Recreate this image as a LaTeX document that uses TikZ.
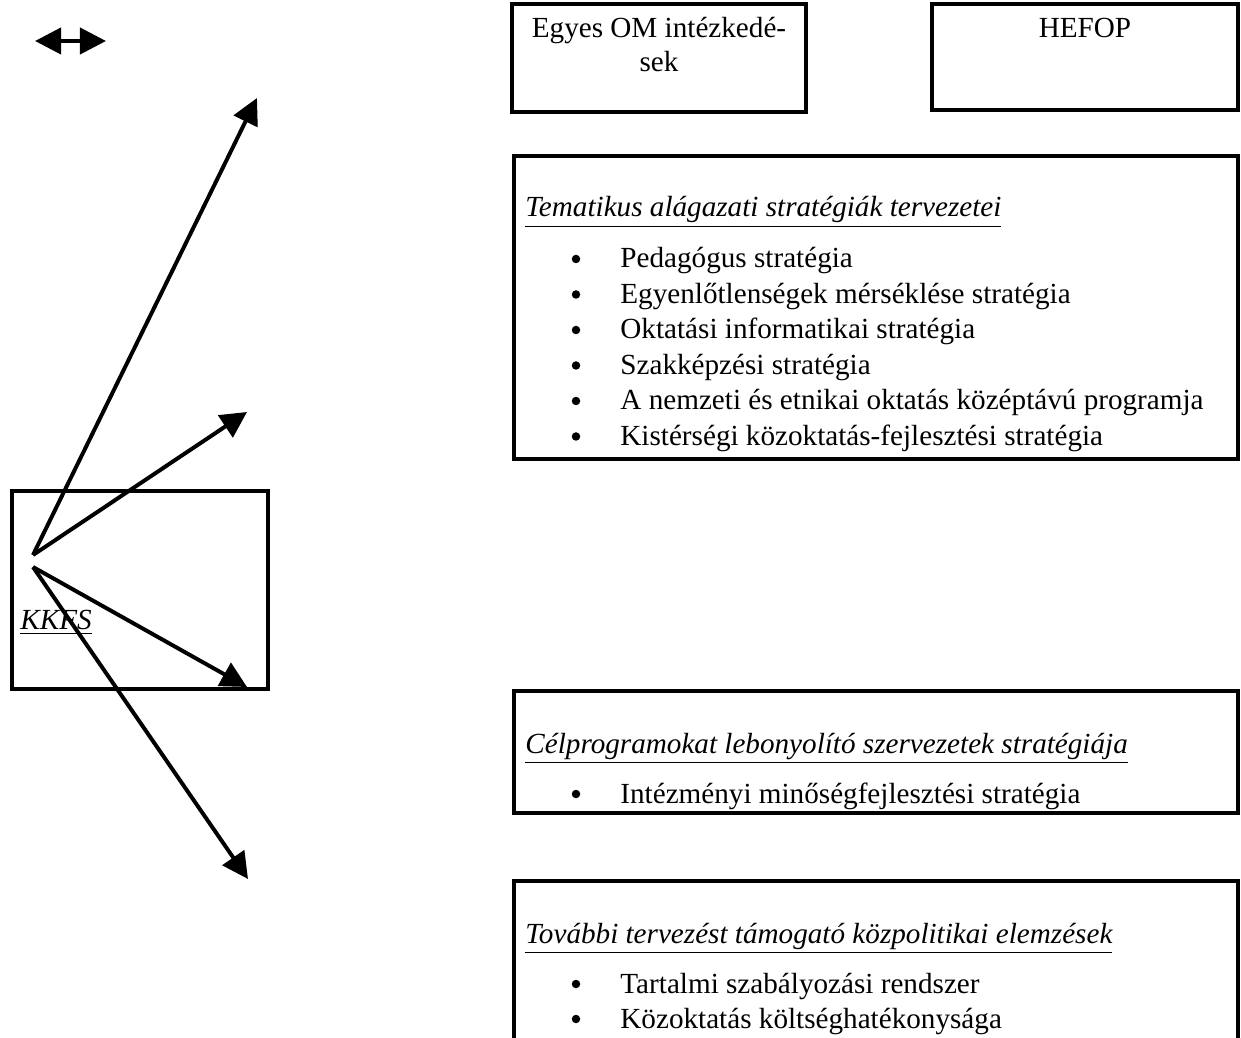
\documentclass[tikz,border=0pt]{standalone}
\usepackage{fontspec}
\setmainfont{Liberation Serif}
\usetikzlibrary{arrows.meta,positioning}

\newcommand{\px}{0.48pt}
\newcommand{\bodyfont}{\fontsize{14}{16}\selectfont}
\tikzset{
  frame/.style={draw, line width=2.2pt, inner sep=0pt, outer sep=0pt, anchor=north west},
  title/.style={anchor=base west, inner sep=0pt, font=\bodyfont\itshape},
  item/.style={anchor=base west, inner sep=0pt},
  dot/.style={anchor=base, inner sep=0pt},
  bullet/.style={circle, fill, inner sep=0pt, minimum size=8.5*\px},
  link/.style={line width=1.9pt, ->},
}

\begin{document}
\begin{tikzpicture}[x=0.48pt, y=-0.48pt, font=\bodyfont,
    >={Triangle[length=12.5pt,width=12.5pt]}]
        \useasboundingbox (0,0) rectangle (1241,1038);
        \clip (0,0) rectangle (1241,1038);

        % legend arrow
        \coordinate (legL) at (35,41);
        \coordinate (legR) at (106,41);
        \draw[line width=1.9pt, <->] (legL) -- (legR);

        % boxes
        \node[frame, minimum width=294*\px, minimum height=108*\px] (egyes) at (512,4) {};
        \node[frame, minimum width=306*\px, minimum height=106*\px] (hefop) at (932,4) {};
        \node[frame, minimum width=724*\px, minimum height=303*\px] (tema) at (514,156) {};
        \node[frame, minimum width=256*\px, minimum height=198*\px] (kkfs) at (12,491) {};
        \node[frame, minimum width=724*\px, minimum height=122*\px] (celprog) at (514,691) {};
        \node[frame, minimum width=724*\px, minimum height=200*\px] (tovabbi) at (514,881) {};

        % top boxes
        \node[dot] at (659,38) {Egyes OM intézkedé-};
        \node[dot] at (659,72) {sek};
        \node[dot] at (1085,38) {HEFOP};

        % thematic strategies
        \node[title] at (525,217) {\underline{Tematikus alágazati stratégiák tervezetei}};
        \foreach \y/\t in {268/Pedagógus stratégia,
                           303.5/Egyenlőtlenségek mérséklése stratégia,
                           339/Oktatási informatikai stratégia,
                           374.5/Szakképzési stratégia,
                           410/A nemzeti és etnikai oktatás középtávú programja,
                           445.5/Kistérségi közoktatás-fejlesztési stratégia} {
          \node[bullet] at (576,\y-9) {};
          \node[item] at (620,\y) {\t};
        }

        % target programmes
        \node[title] at (525,753) {\underline{Célprogramokat lebonyolító szervezetek stratégiája}};
        \node[bullet] at (576,794) {};
        \node[item] at (620,803) {Intézményi minőségfejlesztési stratégia};

        % further analyses
        \node[title] at (525,943) {\underline{További tervezést támogató közpolitikai elemzések}};
        \node[bullet] at (576,984) {};
        \node[item] at (620,993) {Tartalmi szabályozási rendszer};
        \node[bullet] at (576,1019) {};
        \node[item] at (620,1028) {Közoktatás költséghatékonysága};

        % KKFS and its arrows
        \node[title] at (20,630) {\underline{KKFS}};
        \coordinate (forkA) at (33,555);
        \coordinate (forkB) at (33,567);
        \coordinate (endA) at (257,98);
        \coordinate (endB) at (247,412);
        \coordinate (endC) at (247,687);
        \coordinate (endD) at (248,879);
        \draw[link] (forkA) -- (endA);
        \draw[link] (forkA) -- (endB);
        \draw[link] (forkB) -- (endC);
        \draw[link] (forkB) -- (endD);
      \end{tikzpicture}
\end{document}
